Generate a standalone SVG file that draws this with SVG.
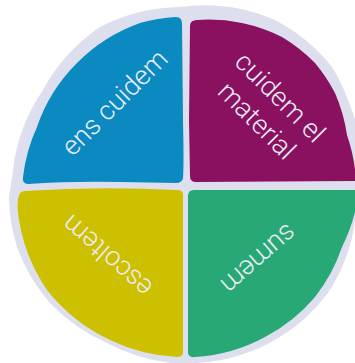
<svg xmlns="http://www.w3.org/2000/svg" width="355" height="363" viewBox="0 0 355 363">
<style>
.lbl{font-family:Roboto,"Liberation Sans",sans-serif;font-weight:300;font-size:27px;fill:#ececf6;text-anchor:middle}
</style>
<rect width="355" height="363" fill="#ffffff"/>
<g id="ring">
<path fill="#dedfee" d="M180,7 A177 177 0 0 1 275,20 A177 177 0 0 1 332,67 A177 177 0 0 1 348,100 A177 177 0 0 1 362,170 L360,205 L356,213 A177 177 0 0 1 328,293 A177 177 0 0 1 275,340 A177 177 0 0 1 208,362 L185,364 A177 177 0 0 1 107,343 A177 177 0 0 1 50,303 A177 177 0 0 1 17,247 A177 177 0 0 1 9,197 L13,170 A177 177 0 0 1 43,90 A177 177 0 0 1 100,27 A177 177 0 0 1 180,7 Z"/>
</g>
<g id="ens-cuidem">
<path fill="#0a8ac1" d="M176,17 Q182,17 182,24 L183,120 Q184,165 183,178 Q182,183 176,183 L120,182 Q70,181 28,184 Q22,184 23,177 A165 165 0 0 1 37,127 A165 165 0 0 1 77,63 A168 168 0 0 1 140,23 A170 170 0 0 1 176,17 Z"/>
<text class="lbl" transform="translate(116,104) rotate(-45)" y="7">ens cuidem</text>
</g>
<g id="cuidem-el-material">
<path fill="#8a1060" d="M190,26 Q190,20 197,20 A168 168 0 0 1 242,23 A168 168 0 0 1 282,37 A167 167 0 0 1 315,63 A167 167 0 0 1 335,93 A167 167 0 0 1 347,135 A167 167 0 0 1 356,181 L196,182 Q190,182 190,176 L189,120 Z"/>
<text class="lbl" transform="translate(267,110.5) rotate(45)"><tspan x="0" y="-9.5">cuidem el</tspan><tspan x="0" y="23.5">material</tspan></text>
</g>
<g id="sumem">
<path fill="#27a874" d="M188,196 Q188,190 194,190 L360,190 L357,203 A167 167 0 0 1 342,247 A167 167 0 0 1 315,297 A167 167 0 0 1 265,337 A167 167 0 0 1 195,357 Q188,358 188,352 Z"/>
<text class="lbl" transform="translate(257.5,257.5) rotate(139)" y="7">sumem</text>
</g>
<g id="escoltem">
<path fill="#cdc000" d="M183,195 L183,352 Q183,357 177,357 A175 175 0 0 1 110,340 A175 175 0 0 1 47,290 A175 175 0 0 1 18,213 Q16,192 24,191 Q100,186 177,190 Q183,190 183,195 Z"/>
<text class="lbl" transform="translate(108.5,254.5) rotate(-139)" y="7">escoltem</text>
</g>
</svg>
